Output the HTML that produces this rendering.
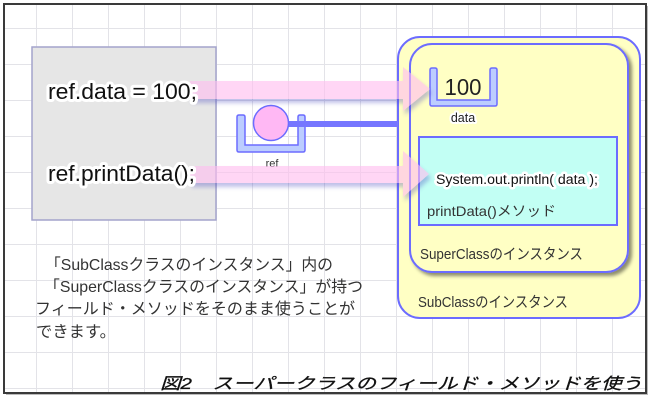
<!DOCTYPE html>
<html><head><meta charset="utf-8"><style>
html,body{margin:0;padding:0;background:#fff;width:650px;height:400px;overflow:hidden}
svg{display:block}
text{font-family:"Liberation Sans","Noto Sans CJK JP",sans-serif}
.glow{paint-order:stroke;stroke:#fff;stroke-linejoin:round}
</style></head><body>
<svg width="650" height="400" viewBox="0 0 650 400" xmlns="http://www.w3.org/2000/svg">
<defs>
<pattern id="grid" x="1" y="-7" width="36" height="36" patternUnits="userSpaceOnUse">
<path d="M35.5 0V36M0 35.5H36" fill="none" stroke="#e3e3e8" stroke-width="1"/>
</pattern>
<filter id="ash" x="-10%" y="-50%" width="130%" height="220%">
<feDropShadow dx="2" dy="4" stdDeviation="2" flood-color="#4848c0" flood-opacity="0.55"/>
</filter>
<filter id="bsh" x="-10%" y="-10%" width="130%" height="130%">
<feDropShadow dx="3" dy="3" stdDeviation="1.8" flood-color="#000" flood-opacity="0.45"/>
</filter>
</defs>
<rect x="0" y="0" width="650" height="400" fill="#fff"/>
<rect x="5" y="5" width="640" height="387" fill="url(#grid)"/>
<rect x="4" y="4" width="642" height="389" fill="none" stroke="#3a3a3a" stroke-width="2"/>
<line x1="6" y1="394.5" x2="647" y2="394.5" stroke="#bbb" stroke-width="1"/>
<line x1="647.5" y1="6" x2="647.5" y2="395" stroke="#bbb" stroke-width="1"/>

<!-- gray code box -->
<rect x="32" y="47" width="184" height="173" fill="#e6e6e6" stroke="#a4a4cc" stroke-width="1.5"/>

<!-- SubClass outer -->
<rect x="398" y="37" width="242" height="281" rx="22" ry="22" fill="#ffffc4" stroke="#6c6cff" stroke-width="2"/>
<!-- SuperClass inner -->
<rect x="410" y="44" width="218" height="228" rx="22" ry="22" fill="#ffffc4" stroke="#6c6cff" stroke-width="2" filter="url(#bsh)"/>

<!-- data U -->
<path d="M430,70 q0,-2 2,-2 h3 q2,0 2,2 V100 H490 V70 q0,-2 2,-2 h3 q2,0 2,2 V104 q0,2 -2,2 H432 q-2,0 -2,-2 Z" fill="#bccdff" stroke="#6c6cff" stroke-width="1.5"/>
<text x="463" y="95" font-size="23" text-anchor="middle" fill="#222" textLength="37" lengthAdjust="spacingAndGlyphs">100</text>
<text x="463" y="122" font-size="12.5" text-anchor="middle" fill="#222" class="glow" stroke-width="4">data</text>

<!-- method box -->
<rect x="419" y="137" width="198" height="88" fill="#c2fff4" stroke="#6c6cff" stroke-width="2"/>

<!-- ref U + circle -->
<path d="M237,117 q0,-2 2,-2 h4 q2,0 2,2 V145 H298 V117 q0,-2 2,-2 h3 q2,0 2,2 V150 q0,2 -2,2 H239 q-2,0 -2,-2 Z" fill="#bccdff" stroke="#6c6cff" stroke-width="1.5"/>
<line x1="285" y1="124" x2="398" y2="124" stroke="#7676ff" stroke-width="6"/>
<circle cx="271" cy="123" r="17.5" fill="#ffb8f4" stroke="#6c6cff" stroke-width="1.5"/>
<text x="272" y="167" font-size="11" text-anchor="middle" fill="#333">ref</text>

<!-- arrows -->
<g opacity="0.62" filter="url(#ash)">
<path d="M190,81 H403 V67 L430,89 L403,111 V99 H190 Z" fill="#ffbef0"/>
<path d="M190,166 H403 V151 L429,174 L403,197 V183 H190 Z" fill="#ffbef0"/>
</g>

<!-- code text -->
<text x="48" y="99" font-size="22" fill="#111" class="glow" stroke-width="6" textLength="149" lengthAdjust="spacingAndGlyphs">ref.data = 100;</text>
<text x="48" y="181" font-size="22" fill="#111" class="glow" stroke-width="6" textLength="147" lengthAdjust="spacingAndGlyphs">ref.printData();</text>

<text x="436" y="184" font-size="13.5" fill="#111" class="glow" stroke-width="5" textLength="162" lengthAdjust="spacingAndGlyphs">System.out.println( data );</text>
<text x="427" y="216" font-size="14" fill="#333" textLength="129" lengthAdjust="spacingAndGlyphs">printData()メソッド</text>
<text x="420" y="259" font-size="15" fill="#333" textLength="163" lengthAdjust="spacingAndGlyphs">SuperClassのインスタンス</text>
<text x="418" y="307" font-size="15" fill="#333" textLength="150" lengthAdjust="spacingAndGlyphs">SubClassのインスタンス</text>

<!-- explanation -->
<text x="45" y="270" font-size="16" fill="#333" textLength="288" lengthAdjust="spacingAndGlyphs">「SubClassクラスのインスタンス」内の</text>
<text x="44" y="292" font-size="16" fill="#333" textLength="319" lengthAdjust="spacingAndGlyphs">「SuperClassクラスのインスタンス」が持つ</text>
<text x="35" y="314" font-size="16" fill="#333" textLength="320" lengthAdjust="spacingAndGlyphs">フィールド・メソッドをそのまま使うことが</text>
<text x="36" y="337" font-size="16" fill="#333" textLength="80" lengthAdjust="spacingAndGlyphs">できます。</text>

<!-- caption -->
<text x="160" y="389" font-size="16" font-style="italic" fill="#111" stroke="#111" stroke-width="0.3" textLength="482" lengthAdjust="spacingAndGlyphs">図2　スーパークラスのフィールド・メソッドを使う</text>
</svg>
</body></html>
